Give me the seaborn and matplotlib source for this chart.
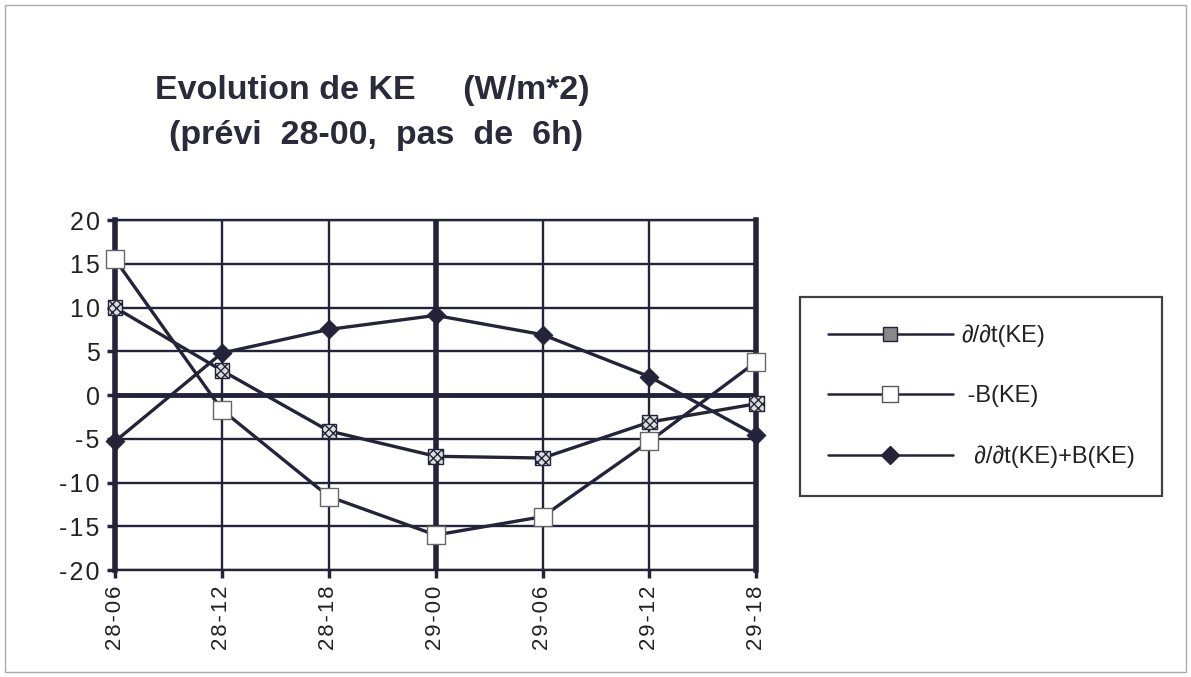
#!/usr/bin/env python
# coding: utf-8

# Evolution de KE (W/m*2) -- previ 28-00, pas de 6h

import numpy as np
import pandas as pd
import matplotlib
matplotlib.use("Agg")
import matplotlib.pyplot as plt
from matplotlib.lines import Line2D
from matplotlib.patches import Rectangle
import seaborn as sns

sns.set_style("white")
plt.rcParams['font.family'] = ['Liberation Sans', 'DejaVu Sans']

# data
echeances = ["28-06", "28-12", "28-18", "29-00", "29-06", "29-12", "29-18"]
dKE_dt = [10.0, 2.8, -4.1, -7.0, -7.2, -3.1, -1.0]
moins_B = [15.5, -1.7, -11.6, -16.0, -13.9, -5.3, 3.8]
somme = [-5.3, 4.8, 7.5, 9.1, 6.9, 2.1, -4.6]

labels = ["∂/∂t(KE)", " -B(KE)", "  ∂/∂t(KE)+B(KE)"]
y_ticks = [-20, -15, -10, -5, 0, 5, 10, 15, 20]

df = pd.DataFrame({
    "pos": np.arange(len(echeances)),
    "dKE": dKE_dt,
    "B": moins_B,
    "somme": somme,
})

ink = "#23233a"
sp = "\u200a"  # hair space, letter spacing of the tick labels

fig = plt.figure(figsize=(11.91, 6.77), dpi=100)
ax = fig.add_axes([0.0966, 0.158, 0.5384, 0.517])

# lines
for col in ["dKE", "B", "somme"]:
    sns.lineplot(data=df, x="pos", y=col, color=ink, linewidth=2.4, ax=ax,
                 zorder=3, clip_on=False)

# markers
sns.scatterplot(data=df, x="pos", y="dKE", marker="s", s=110, facecolor="#dddddd",
                edgecolor=ink, hatch="xxxx", linewidth=1.0, ax=ax, zorder=4, clip_on=False)
sns.scatterplot(data=df, x="pos", y="B", marker="s", s=170, facecolor="white",
                edgecolor="#666666", linewidth=1.0, ax=ax, zorder=4, clip_on=False)
sns.scatterplot(data=df, x="pos", y="somme", marker="D", s=90, color=ink,
                edgecolor=ink, ax=ax, zorder=4, clip_on=False)

ax.set_xlim(0, len(echeances) - 1)
ax.set_ylim(-20, 20)
ax.set_xticks(df["pos"])
ax.set_xticklabels([sp.join(e) for e in echeances], rotation=90, fontsize=16)
ax.set_yticks(y_ticks)
ax.set_yticklabels([sp.join(str(v)) for v in y_ticks], fontsize=18)
ax.set_xlabel("")
ax.set_ylabel("")
ax.tick_params(axis="both", length=6, width=2.5, color=ink, pad=5,
               labelcolor="#222222", direction="out")
ax.tick_params(axis="y", left=True)
ax.tick_params(axis="x", bottom=True)

# grid
for v in y_ticks:
    ax.axhline(v, color=ink, linewidth=1.7, zorder=1)
for p in df["pos"]:
    ax.axvline(p, color=ink, linewidth=1.7, zorder=1)
ax.axhline(0, color=ink, linewidth=3.5, zorder=2)
ax.axvline(3, color=ink, linewidth=4, zorder=2)
for side in ["left", "right"]:
    ax.spines[side].set_linewidth(4)
    ax.spines[side].set_color(ink)
for side in ["top", "bottom"]:
    ax.spines[side].set_linewidth(1.7)
    ax.spines[side].set_color(ink)

# title
fig.text(0.313, 0.866, "Evolution de KE     (W/m*2)", ha="center", va="center",
         fontsize=24.5, fontweight="bold", color="#2a2a3a")
fig.text(0.316, 0.800, "(prévi  28-00,  pas  de  6h)", ha="center", va="center",
         fontsize=24.5, fontweight="bold", color="#2a2a3a")

# legend
handles = [
    Line2D([], [], color=ink, linewidth=1.8, marker="s", markersize=10,
           markerfacecolor="#888888", markeredgecolor=ink),
    Line2D([], [], color=ink, linewidth=1.8, marker="s", markersize=12,
           markerfacecolor="white", markeredgecolor="#555555"),
    Line2D([], [], color=ink, linewidth=1.8, marker="D", markersize=9,
           markerfacecolor=ink, markeredgecolor=ink),
]
leg = fig.legend(handles, labels, loc="upper left", bbox_to_anchor=(0.672, 0.561),
                 fontsize=17, handlelength=5.3, labelspacing=1.63, borderpad=1.15,
                 handletextpad=0.35, fancybox=False, frameon=True, borderaxespad=0)
leg.get_frame().set_edgecolor("#111111")
leg.get_frame().set_linewidth(1.6)
leg.get_frame().set_facecolor("white")
for t in leg.get_texts():
    t.set_color("#222222")

# outer border
fig.patches.append(Rectangle((0.004, 0.008), 0.992, 0.985, transform=fig.transFigure,
                             fill=False, edgecolor="#aaaaaa", linewidth=1))

plt.savefig("out.png", dpi=100)
